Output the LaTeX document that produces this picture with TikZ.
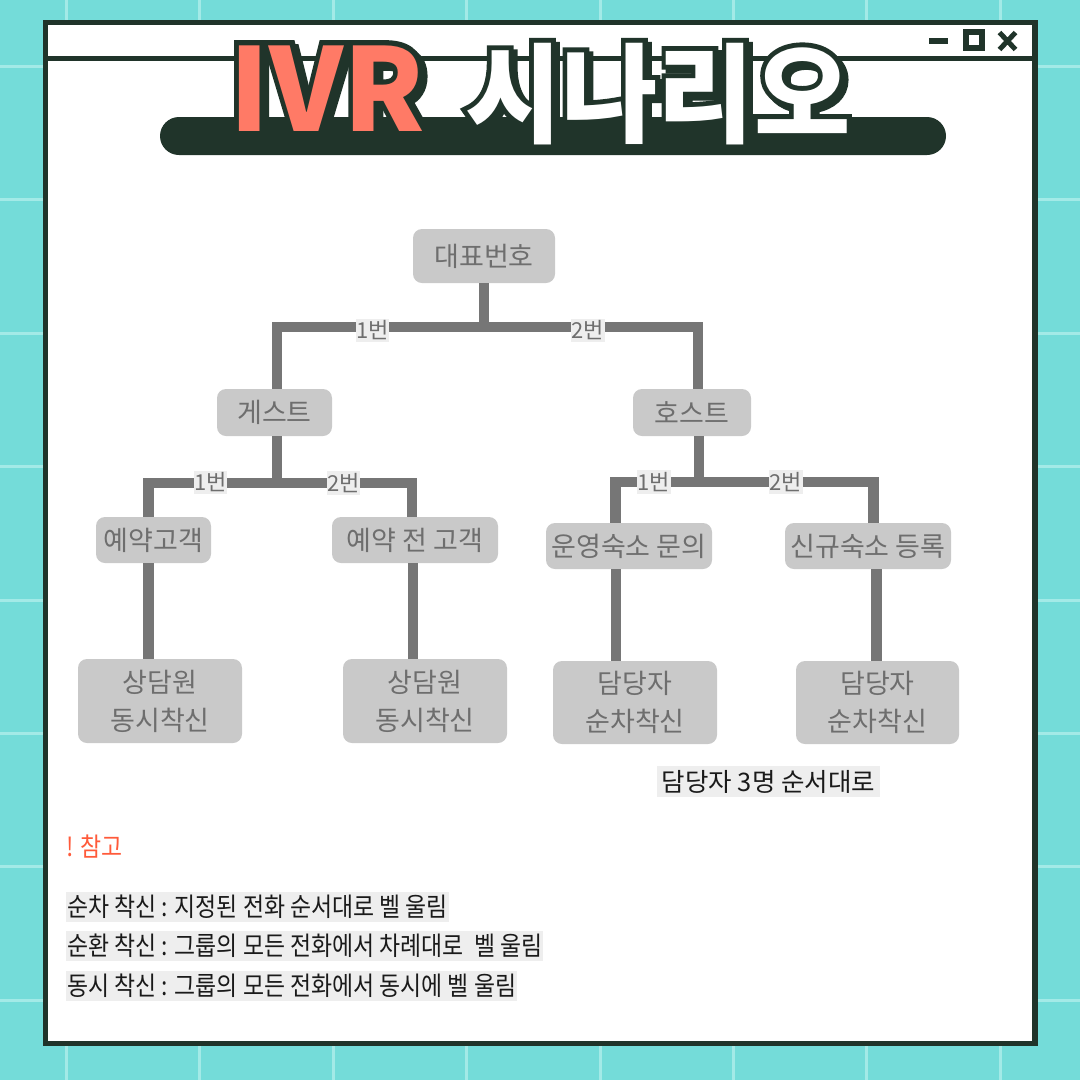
\documentclass[tikz,border=0pt]{standalone}
\usepackage{fontspec}
\setmainfont{Noto Sans CJK KR}
\newfontfamily\krfont{Noto Sans CJK KR}
\newfontfamily\legfont{Noto Sans CJK KR}[FakeStretch=0.88]
\newfontfamily\ttlfont{Noto Sans CJK KR}
\newfontfamily\ttlfontH{Noto Sans CJK KR}[FakeStretch=0.97]
\newfontfamily\ttlout{Noto Sans CJK KR}[UprightFeatures={FakeBold=9},BoldFeatures={FakeBold=9}]
\newfontfamily\ttloutH{Noto Sans CJK KR}[FakeStretch=0.97,UprightFeatures={FakeBold=9},BoldFeatures={FakeBold=9}]
\definecolor{bgteal}{HTML}{74DCD9}
\definecolor{gridln}{HTML}{A3EAE7}
\definecolor{dk}{HTML}{20342A}
\definecolor{salmon}{HTML}{FF7A66}
\definecolor{boxgray}{HTML}{C9C9C9}
\definecolor{txtgray}{HTML}{6E6E6E}
\definecolor{connc}{HTML}{767676}
\definecolor{lblbg}{HTML}{EEEEEE}
\definecolor{noteorange}{HTML}{FF5A3A}
\definecolor{legtxt}{HTML}{1A1A1A}
\newcommand{\ttlOutline}{\ttlout\bfseries\fontsize{115}{115}\selectfont IVR\hspace{40pt}{\ttloutH\bfseries\fontsize{108}{108}\selectfont\raisebox{-3pt}{시나리오}}}
\newcommand{\ttlFill}{\ttlfont\bfseries\fontsize{115}{115}\selectfont\color{salmon}IVR\hspace{40pt}{\ttlfontH\bfseries\fontsize{108}{108}\selectfont\color{white}\raisebox{-3pt}{시나리오}}}
\tikzset{
  treebox/.style={fill=boxgray, rounded corners=9pt, text=txtgray,
    font=\krfont\fontsize{27}{38}\selectfont, inner sep=0pt, align=center},
  conline/.style={draw=connc, line width=10.5pt},
  numlbl/.style={fill=lblbg, text=txtgray, font=\krfont\fontsize{22}{22}\selectfont,
    inner xsep=0.5pt, inner ysep=2pt},
  legline/.style={fill=lblbg, text=legtxt, font=\legfont\fontsize{26}{26}\selectfont,
    inner xsep=1pt, inner ysep=0pt, minimum height=30pt, anchor=west},
}
\begin{document}
\begin{tikzpicture}[x=1pt,y=-1pt]
\useasboundingbox (0,0) rectangle (1080,1080);
% background
\fill[bgteal] (0,0) rectangle (1080,1080);
\foreach \i in {0,...,7}{
  \draw[gridln, line width=3pt] (66.5+133.4*\i,0) -- (66.5+133.4*\i,1080);
  \draw[gridln, line width=3pt] (0,66.5+133.4*\i) -- (1080,66.5+133.4*\i);
}
% window
\draw[dk, fill=white, line width=5.5pt] (45.5,22.5) rectangle (1035,1043.5);
\draw[dk, line width=5pt] (45.5,58) -- (1035,58);
\fill[dk] (929,38) rectangle (948,43.5);
\draw[dk, line width=6pt] (966,32) rectangle (982,48);
\draw[dk, line width=5pt] (999.5,32.5) -- (1015.5,49.5) (999.5,49.5) -- (1015.5,32.5);
% title bar
\fill[dk, rounded corners=19pt] (160,117) rectangle (946,155);
% title
\node[anchor=base, text=dk, inner sep=0pt] (ttlshadow) at (544,135) {\ttlOutline};
\node[anchor=base, text=dk, inner sep=0pt] (ttloutline) at (540,131) {\ttlOutline};
\node[anchor=base, inner sep=0pt] (title) at (540,131) {\ttlFill};
% tree nodes
\node[treebox, minimum width=142pt, minimum height=54pt] (rep) at (484,256) {대표번호};
\node[treebox, minimum width=115pt, minimum height=47pt] (guest) at (274.5,412.5) {게스트};
\node[treebox, minimum width=118pt, minimum height=47pt] (host) at (692,412.5) {호스트};
\node[treebox, minimum width=115pt, minimum height=46pt] (resv) at (153.5,540) {예약고객};
\node[treebox, minimum width=166pt, minimum height=46pt] (preresv) at (415,540) {예약 전 고객};
\node[treebox, minimum width=166pt, minimum height=46pt] (opq) at (629,546) {운영숙소 문의};
\node[treebox, minimum width=166pt, minimum height=46pt] (newreg) at (868,546) {신규숙소 등록};
\node[treebox, minimum width=164pt, minimum height=84pt] (cs1) at (160,701) {상담원\\동시착신};
\node[treebox, minimum width=164pt, minimum height=84pt] (cs2) at (425,701) {상담원\\동시착신};
\node[treebox, minimum width=164pt, minimum height=83pt] (mg1) at (635,702.5) {담당자\\순차착신};
\node[treebox, minimum width=163pt, minimum height=83pt] (mg2) at (877.5,702.5) {담당자\\순차착신};
% connectors
\coordinate (j1) at (484,327);
\coordinate (j2) at (277,483);
\coordinate (j3) at (699,482);
\draw[conline] (rep.south) -- (j1);
\draw[conline] ([xshift=2.5pt]guest.north) |- (j1) -| ([xshift=6pt]host.north);
\draw[conline] ([xshift=2.5pt]guest.south) -- (j2);
\draw[conline] ([xshift=-5pt]resv.north) |- (j2) -| ([xshift=-3pt]preresv.north);
\draw[conline] ([xshift=7pt]host.south) -- (j3);
\draw[conline] ([xshift=-13.5pt]opq.north) |- (j3) -| ([xshift=5.5pt]newreg.north);
\draw[conline] ([xshift=-5pt]resv.south) -- ([xshift=-5pt]resv.south |- cs1.north);
\draw[conline] ([xshift=-2pt]preresv.south) -- ([xshift=-2pt]preresv.south |- cs2.north);
\draw[conline] ([xshift=-13pt]opq.south) -- ([xshift=-13pt]opq.south |- mg1.north);
\draw[conline] ([xshift=8.5pt]newreg.south) -- ([xshift=8.5pt]newreg.south |- mg2.north);
% branch labels
\node[numlbl] (l1a) at (372.5,330.5) {1번};
\node[numlbl] (l1b) at (588,330.5) {2번};
\node[numlbl] (l2a) at (210.5,482.5) {1번};
\node[numlbl] (l2b) at (343.5,483) {2번};
\node[numlbl] (l3a) at (654,482) {1번};
\node[numlbl] (l3b) at (786,482) {2번};
% note under tree
\node[fill=lblbg, text=legtxt, font=\krfont\fontsize{25.5}{25.5}\selectfont, inner sep=0pt,
  minimum width=223pt, minimum height=31pt] (three) at (768.5,781.5) {담당자 3명 순서대로};
% legend
\node[anchor=west, text=noteorange, font=\legfont\fontsize{26}{26}\selectfont, inner sep=0pt] (note) at (66,847) {! 참고};
\node[legline] (leg1) at (66,907) {순차 착신 : 지정된 전화 순서대로 벨 울림};
\node[legline] (leg2) at (66,946) {순환 착신 : 그룹의 모든 전화에서 차례대로~ 벨 울림};
\node[legline] (leg3) at (66,985.5) {동시 착신 : 그룹의 모든 전화에서 동시에 벨 울림};
\end{tikzpicture}
\end{document}
